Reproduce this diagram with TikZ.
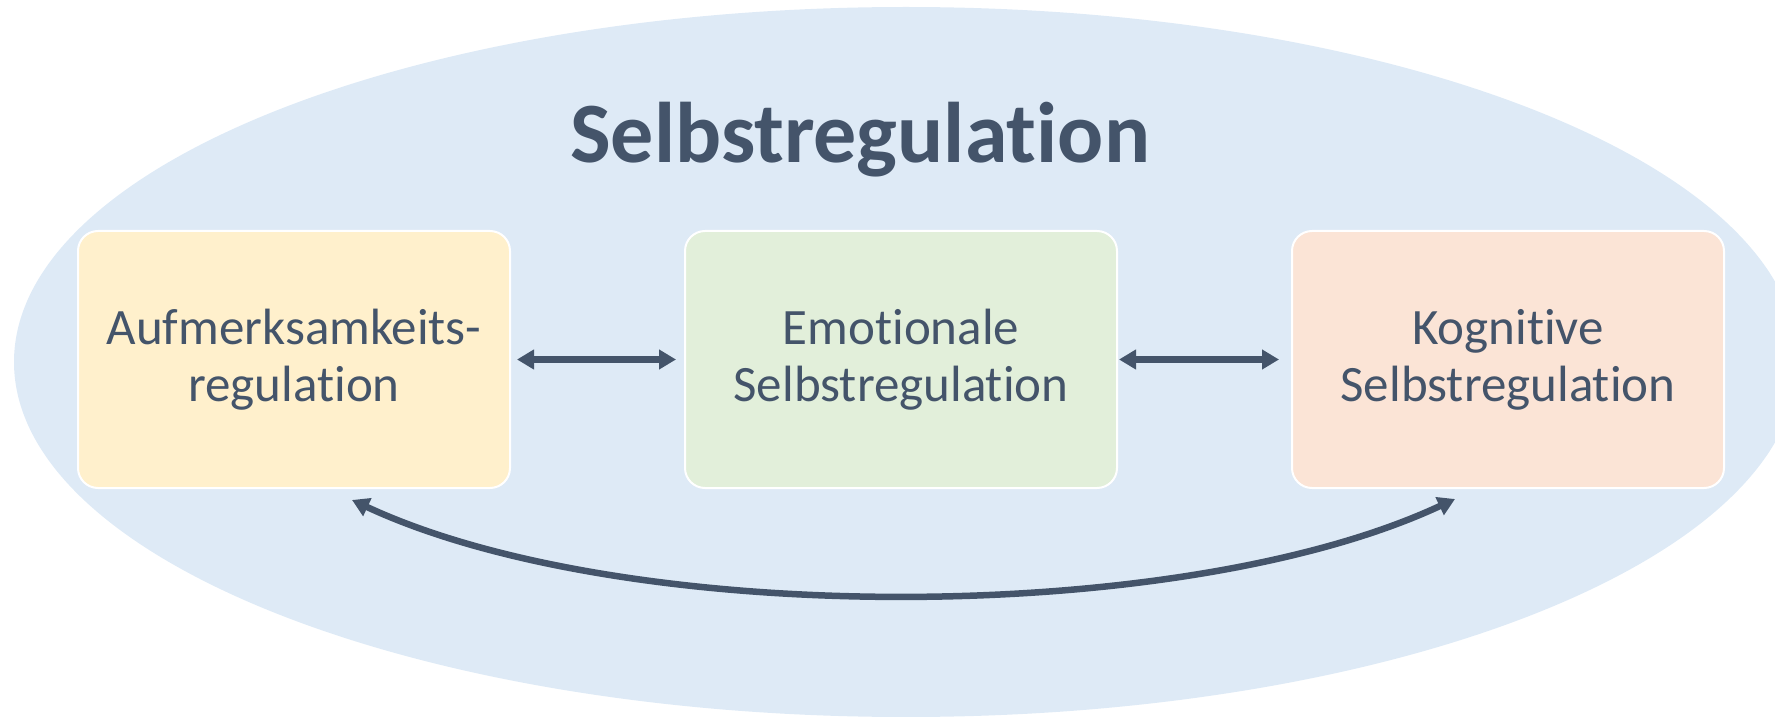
\documentclass[tikz,border=0pt]{standalone}
\usepackage{fontspec}
\setmainfont{Carlito}[Ligatures = NoCommon]
\usepackage{tikz}
\usetikzlibrary{positioning}
\usetikzlibrary{arrows.meta}

\definecolor{hintergrund}{HTML}{DEEAF6}
\definecolor{gelb}{HTML}{FFF0CC}
\definecolor{gruen}{HTML}{E2EFDA}
\definecolor{rosa}{HTML}{FBE4D6}
\definecolor{schrift}{HTML}{44546A}

\begin{document}
\begin{tikzpicture}[x=1pt,y=1pt,
		kasten/.style = {draw = white, line width = 2pt, rounded corners = 20pt, minimum width = 432pt, minimum height = 257pt, text = schrift, align = center, font = \fontsize{51}{57}\selectfont},
		pfeil/.style = {draw = schrift, line width = 6.5pt, {Triangle[length=17pt,width=19pt]}-{Triangle[length=17pt,width=19pt]}}]
		\useasboundingbox (0,0) rectangle (1775,716);
		\clip (0,0) rectangle (1775,716);
		\fill[hintergrund] (906,354) ellipse [x radius = 892, y radius = 355];
		\node[text = schrift, anchor = base, font = \fontsize{86}{96}\selectfont\bfseries] at (860,553) (titel) {Selbstregulation};
		\node[kasten, fill = gelb] at (294,356.5) (aufm) {Aufmerksamkeits-\\regulation};
		\node[kasten, fill = gruen, right = 173pt of aufm] (emot) {Emotionale\\Selbstregulation};
		\node[kasten, fill = rosa, right = 173pt of emot] (kogn) {Kognitive\\Selbstregulation};
		\draw[pfeil, shorten < = 6pt, shorten > = 8pt] (aufm.east) -- (emot.west);
		\draw[pfeil, shorten < = 1pt, shorten > = 12pt] (emot.east) -- (kogn.west);
		\draw[pfeil] ([shift={(58,-11)}]aufm.south) .. controls +(-25:302) and +(-155:302) .. ([shift={(-53,-10)}]kogn.south);
	\end{tikzpicture}
\end{document}
